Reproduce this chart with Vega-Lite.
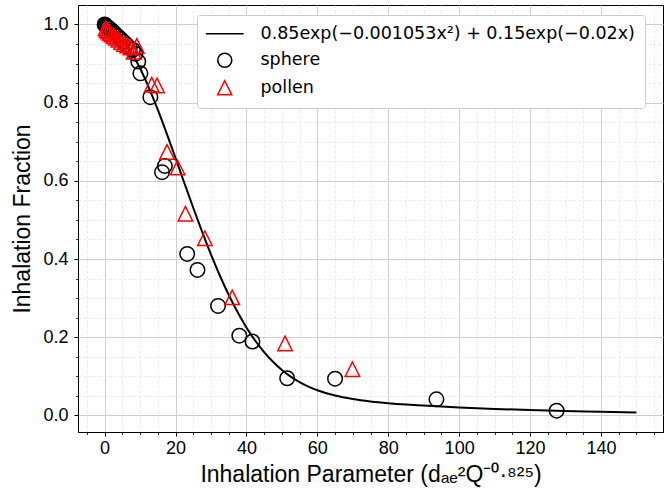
{
  "$schema": "https://vega.github.io/schema/vega-lite/v6.json",
  "width": 585,
  "height": 427,
  "autosize": {"type": "none"},
  "padding": {"left": 78, "top": 5, "right": 5, "bottom": 66},
  "background": "white",
  "config": {
    "view": {"stroke": "black", "strokeWidth": 1},
    "axis": {
      "labelFont": "Liberation Sans",
      "labelFontSize": 18,
      "labelColor": "black",
      "titleFont": "Liberation Sans",
      "titleFontSize": 23,
      "titleFontWeight": "normal",
      "titleColor": "black",
      "tickColor": "black",
      "domainColor": "black",
      "domainWidth": 1
    }
  },
  "datasets": {
    "curve": [
      {"x": 0, "y": 1.0}, {"x": 2.5, "y": 0.9871}, {"x": 5, "y": 0.9636}, {"x": 7.5, "y": 0.9302},
      {"x": 10, "y": 0.8879}, {"x": 12.5, "y": 0.8379}, {"x": 15, "y": 0.7818}, {"x": 17.5, "y": 0.7214},
      {"x": 20, "y": 0.6584}, {"x": 22.5, "y": 0.5944}, {"x": 25, "y": 0.5311}, {"x": 27.5, "y": 0.4699},
      {"x": 30, "y": 0.4118}, {"x": 32.5, "y": 0.3578}, {"x": 35, "y": 0.3085}, {"x": 37.5, "y": 0.2642},
      {"x": 40, "y": 0.225}, {"x": 42.5, "y": 0.191}, {"x": 45, "y": 0.1618}, {"x": 47.5, "y": 0.137},
      {"x": 50, "y": 0.1163}, {"x": 52.5, "y": 0.0992}, {"x": 55, "y": 0.0851}, {"x": 57.5, "y": 0.0736},
      {"x": 60, "y": 0.0644}, {"x": 65, "y": 0.0508}, {"x": 70, "y": 0.0419}, {"x": 75, "y": 0.0358},
      {"x": 80, "y": 0.0313}, {"x": 85, "y": 0.0278}, {"x": 90, "y": 0.025}, {"x": 95, "y": 0.0225},
      {"x": 100, "y": 0.0203}, {"x": 110, "y": 0.0166}, {"x": 120, "y": 0.0136}, {"x": 130, "y": 0.0111},
      {"x": 140, "y": 0.0091}, {"x": 150, "y": 0.0075}
    ],
    "obs": [
      {"x": 0, "y": 1.0, "series": "sphere"},
      {"x": 0.2, "y": 0.998, "series": "sphere"},
      {"x": 0.4, "y": 0.996, "series": "sphere"},
      {"x": 0.7, "y": 0.994, "series": "sphere"},
      {"x": 1.0, "y": 0.992, "series": "sphere"},
      {"x": 1.4, "y": 0.989, "series": "sphere"},
      {"x": 1.9, "y": 0.985, "series": "sphere"},
      {"x": 2.4, "y": 0.981, "series": "sphere"},
      {"x": 3.0, "y": 0.976, "series": "sphere"},
      {"x": 3.7, "y": 0.97, "series": "sphere"},
      {"x": 4.5, "y": 0.963, "series": "sphere"},
      {"x": 5.3, "y": 0.956, "series": "sphere"},
      {"x": 6.2, "y": 0.948, "series": "sphere"},
      {"x": 7.1, "y": 0.94, "series": "sphere"},
      {"x": 8.0, "y": 0.935, "series": "sphere"},
      {"x": 8.7, "y": 0.925, "series": "sphere"},
      {"x": 9.5, "y": 0.905, "series": "sphere"},
      {"x": 10.1, "y": 0.875, "series": "sphere"},
      {"x": 12.9, "y": 0.814, "series": "sphere"},
      {"x": 16.2, "y": 0.622, "series": "sphere"},
      {"x": 17.0, "y": 0.638, "series": "sphere"},
      {"x": 23.3, "y": 0.413, "series": "sphere"},
      {"x": 26.2, "y": 0.372, "series": "sphere"},
      {"x": 32.0, "y": 0.28, "series": "sphere"},
      {"x": 38.0, "y": 0.204, "series": "sphere"},
      {"x": 41.7, "y": 0.189, "series": "sphere"},
      {"x": 51.5, "y": 0.095, "series": "sphere"},
      {"x": 65.0, "y": 0.094, "series": "sphere"},
      {"x": 93.6, "y": 0.041, "series": "sphere"},
      {"x": 127.5, "y": 0.012, "series": "sphere"},
      {"x": 0.3, "y": 0.99, "series": "pollen"},
      {"x": 0.6, "y": 0.986, "series": "pollen"},
      {"x": 1.0, "y": 0.982, "series": "pollen"},
      {"x": 1.5, "y": 0.978, "series": "pollen"},
      {"x": 2.0, "y": 0.974, "series": "pollen"},
      {"x": 2.6, "y": 0.97, "series": "pollen"},
      {"x": 3.2, "y": 0.966, "series": "pollen"},
      {"x": 3.9, "y": 0.961, "series": "pollen"},
      {"x": 4.7, "y": 0.955, "series": "pollen"},
      {"x": 5.5, "y": 0.95, "series": "pollen"},
      {"x": 6.4, "y": 0.946, "series": "pollen"},
      {"x": 7.3, "y": 0.941, "series": "pollen"},
      {"x": 8.2, "y": 0.93, "series": "pollen"},
      {"x": 9.1, "y": 0.945, "series": "pollen"},
      {"x": 13.3, "y": 0.846, "series": "pollen"},
      {"x": 14.8, "y": 0.844, "series": "pollen"},
      {"x": 17.6, "y": 0.674, "series": "pollen"},
      {"x": 20.6, "y": 0.634, "series": "pollen"},
      {"x": 22.8, "y": 0.516, "series": "pollen"},
      {"x": 28.3, "y": 0.453, "series": "pollen"},
      {"x": 36.0, "y": 0.302, "series": "pollen"},
      {"x": 50.9, "y": 0.184, "series": "pollen"},
      {"x": 69.9, "y": 0.118, "series": "pollen"}
    ]
  },
  "layer": [
    {
      "data": {"name": "curve"},
      "mark": {"type": "line", "color": "black", "strokeWidth": 2, "interpolate": "monotone"},
      "encoding": {
        "x": {
          "field": "x", "type": "quantitative",
          "scale": {"domain": [-7.5, 157.5], "nice": false, "zero": false},
          "axis": {
            "orient": "bottom", "values": [-5, 5, 10, 15, 25, 30, 35, 45, 50, 55, 65, 70, 75, 85, 90, 95, 105, 110, 115, 125, 130, 135, 145, 150, 155],
            "labels": false, "title": null, "domain": false, "tickSize": 2.5, "tickWidth": 0.8,
            "grid": true, "gridColor": "#e2e2e2", "gridDash": [3, 2], "gridWidth": 0.7
          }
        },
        "y": {
          "field": "y", "type": "quantitative",
          "scale": {"domain": [-0.0425, 1.0497], "nice": false, "zero": false},
          "axis": {
            "orient": "left", "values": [0.05, 0.1, 0.15, 0.25, 0.3, 0.35, 0.45, 0.5, 0.55, 0.65, 0.7, 0.75, 0.85, 0.9, 0.95],
            "labels": false, "title": null, "domain": false, "tickSize": 2.5, "tickWidth": 0.8,
            "grid": true, "gridColor": "#e2e2e2", "gridDash": [3, 2], "gridWidth": 0.7
          }
        }
      }
    },
    {
      "data": {"name": "obs"},
      "mark": {"type": "point", "filled": false, "strokeWidth": 1.5, "size": 210, "opacity": 1},
      "encoding": {
        "x": {
          "field": "x", "type": "quantitative",
          "axis": {
            "orient": "bottom", "values": [0, 20, 40, 60, 80, 100, 120, 140], "format": "d",
            "title": "Inhalation Parameter (dₐₑ²Q⁻⁰·⁸²⁵)",
            "tickSize": 4, "tickWidth": 1, "labelPadding": 3, "titlePadding": 6,
            "grid": true, "gridColor": "#cfcfcf", "gridWidth": 1
          }
        },
        "y": {
          "field": "y", "type": "quantitative",
          "axis": {
            "orient": "left", "values": [0, 0.2, 0.4, 0.6, 0.8, 1.0], "format": ".1f",
            "title": "Inhalation Fraction",
            "tickSize": 4, "tickWidth": 1, "labelPadding": 6, "titlePadding": 8,
            "grid": true, "gridColor": "#cfcfcf", "gridWidth": 1
          }
        },
        "color": {
          "field": "series", "type": "nominal",
          "scale": {"domain": ["0.85exp(−0.001053x²) + 0.15exp(−0.02x)", "sphere", "pollen"], "range": ["black", "black", "red"]},
          "legend": {
            "title": null, "orient": "none", "legendX": 119, "legendY": 10,
            "labelFont": "DejaVu Sans", "labelFontSize": 17.5, "labelColor": "black", "labelLimit": 600,
            "symbolSize": 196, "symbolStrokeWidth": 1.6,
            "padding": 10, "rowPadding": 6.5, "symbolOffset": 9, "labelOffset": 27,
            "strokeColor": "#cccccc", "fillColor": "white", "cornerRadius": 3
          }
        },
        "shape": {
          "field": "series", "type": "nominal",
          "scale": {"domain": ["0.85exp(−0.001053x²) + 0.15exp(−0.02x)", "sphere", "pollen"], "range": ["M-2.7,0L2.7,0", "circle", "M0,-1L1,1L-1,1Z"]}
        }
      }
    }
  ],
  "resolve": {"axis": {"x": "independent", "y": "independent"}}
}
